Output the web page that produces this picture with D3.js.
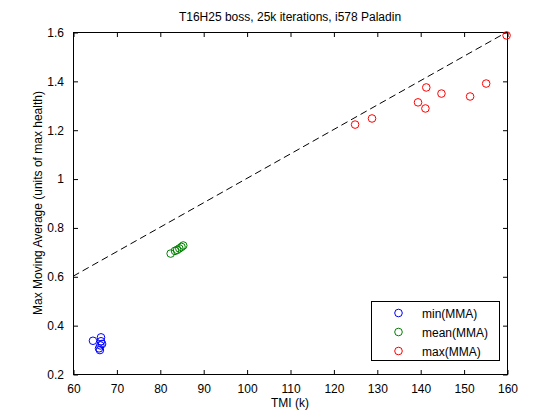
<!DOCTYPE html>
<html><head><meta charset="utf-8">
<script src="https://cdn.jsdelivr.net/npm/d3@7"></script>
<style>
html,body{margin:0;padding:0;background:#fff;}
svg{display:block;}
text{font-family:"Liberation Sans",Arial,sans-serif;fill:#000;}
</style></head>
<body>
<svg id="c" width="560" height="420"></svg>
<script>
const minX = [64.6, 66.45, 66.45, 66.7, 66.3, 66.0, 66.2];
const minY = [0.336, 0.350, 0.334, 0.323, 0.317, 0.305, 0.298];
const meanX = [82.5, 83.5, 84.0, 84.5, 85.0, 85.4];
const meanY = [0.693, 0.704, 0.708, 0.714, 0.72, 0.726];
const maxX = [125.0, 128.9, 139.5, 141.2, 141.4, 144.9, 151.5, 155.2, 159.9];
const maxY = [1.221, 1.246, 1.312, 1.287, 1.373, 1.348, 1.336, 1.389, 1.586];
const refX = [60, 160];
const refY = [0.6, 1.6];
const xTicks = [60, 70, 80, 90, 100, 110, 120, 130, 140, 150, 160];
const yTicks = [0.2, 0.4, 0.6, 0.8, 1, 1.2, 1.4, 1.6];
const seriesNames = ["min(MMA)", "mean(MMA)", "max(MMA)"];
const seriesColors = ["#0000ff", "#008000", "#ff0000"];
const titleText = "T16H25 boss, 25k iterations, i578 Paladin";
const xLabelText = "TMI (k)";
const yLabelText = "Max Moving Average (units of max health)";

const svg = d3.select("#c");
const L = 73, R = 507, T = 32, B = 374;
const x = d3.scaleLinear().domain([60, 160]).range([L, R]);
const y = d3.scaleLinear().domain([0.2, 1.6]).range([B, T]);
const fs = 12;

// frame
svg.append("rect").attr("x", L + 0.5).attr("y", T + 0.5).attr("width", R - L).attr("height", B - T)
  .attr("fill", "none").attr("stroke", "#000").attr("stroke-width", 1);

const tl = 4.5;
const gx = svg.append("g").attr("transform", `translate(0.5,${B + 0.5})`)
  .call(d3.axisBottom(x).tickValues(xTicks).tickSize(-tl).tickPadding(5 + tl).tickFormat(d3.format("d")));
const gxt = svg.append("g").attr("transform", `translate(0.5,${T + 0.5})`)
  .call(d3.axisTop(x).tickValues(xTicks).tickSize(-tl).tickFormat(""));
const gy = svg.append("g").attr("transform", `translate(${L + 0.5},0.5)`)
  .call(d3.axisLeft(y).tickValues(yTicks).tickSize(-tl).tickPadding(5 + tl).tickFormat(d => d3.format("")(+d.toFixed(1))));
const gyr = svg.append("g").attr("transform", `translate(${R + 0.5},0.5)`)
  .call(d3.axisRight(y).tickValues(yTicks).tickSize(-tl).tickFormat(""));
[gx, gxt, gy, gyr].forEach(g => {
  g.select(".domain").remove();
  g.selectAll("line").attr("stroke", "#000");
  g.selectAll("text").attr("font-size", fs).attr("font-family", "Liberation Sans, Arial, sans-serif").attr("fill", "#000");
});

// reference line
svg.append("line")
  .attr("x1", x(refX[0])).attr("y1", y(refY[0]))
  .attr("x2", x(refX[1])).attr("y2", y(refY[1]))
  .attr("stroke", "#000").attr("stroke-width", 1).attr("stroke-dasharray", "7,4");

const series = [[minX, minY], [meanX, meanY], [maxX, maxY]];
series.forEach((s, i) => {
  svg.append("g").selectAll("circle").data(s[0].map((v, j) => [v, s[1][j]])).enter()
    .append("circle")
    .attr("cx", d => x(d[0])).attr("cy", d => y(d[1])).attr("r", 3.8)
    .attr("fill", "none").attr("stroke", seriesColors[i]).attr("stroke-width", 1);
});

// title and labels
svg.append("text").attr("x", (L + R) / 2).attr("y", 21).attr("text-anchor", "middle").attr("font-size", fs).text(titleText);
svg.append("text").attr("x", (L + R) / 2).attr("y", 407).attr("text-anchor", "middle").attr("font-size", fs).text(xLabelText);
svg.append("text").attr("transform", `translate(42,${(T + B) / 2}) rotate(-90)`).attr("text-anchor", "middle").attr("font-size", fs).text(yLabelText);

// legend
const lg = svg.append("g");
lg.append("rect").attr("x", 371.5).attr("y", 301.5).attr("width", 128).attr("height", 59)
  .attr("fill", "#fff").attr("stroke", "#000").attr("stroke-width", 1);
seriesNames.forEach((n, i) => {
  const yy = 313 + i * 19;
  lg.append("circle").attr("cx", 398.5).attr("cy", yy).attr("r", 3.8)
    .attr("fill", "none").attr("stroke", seriesColors[i]).attr("stroke-width", 1);
  lg.append("text").attr("x", 422).attr("y", yy + 4.5).attr("font-size", fs).text(n);
});
</script>
</body></html>
